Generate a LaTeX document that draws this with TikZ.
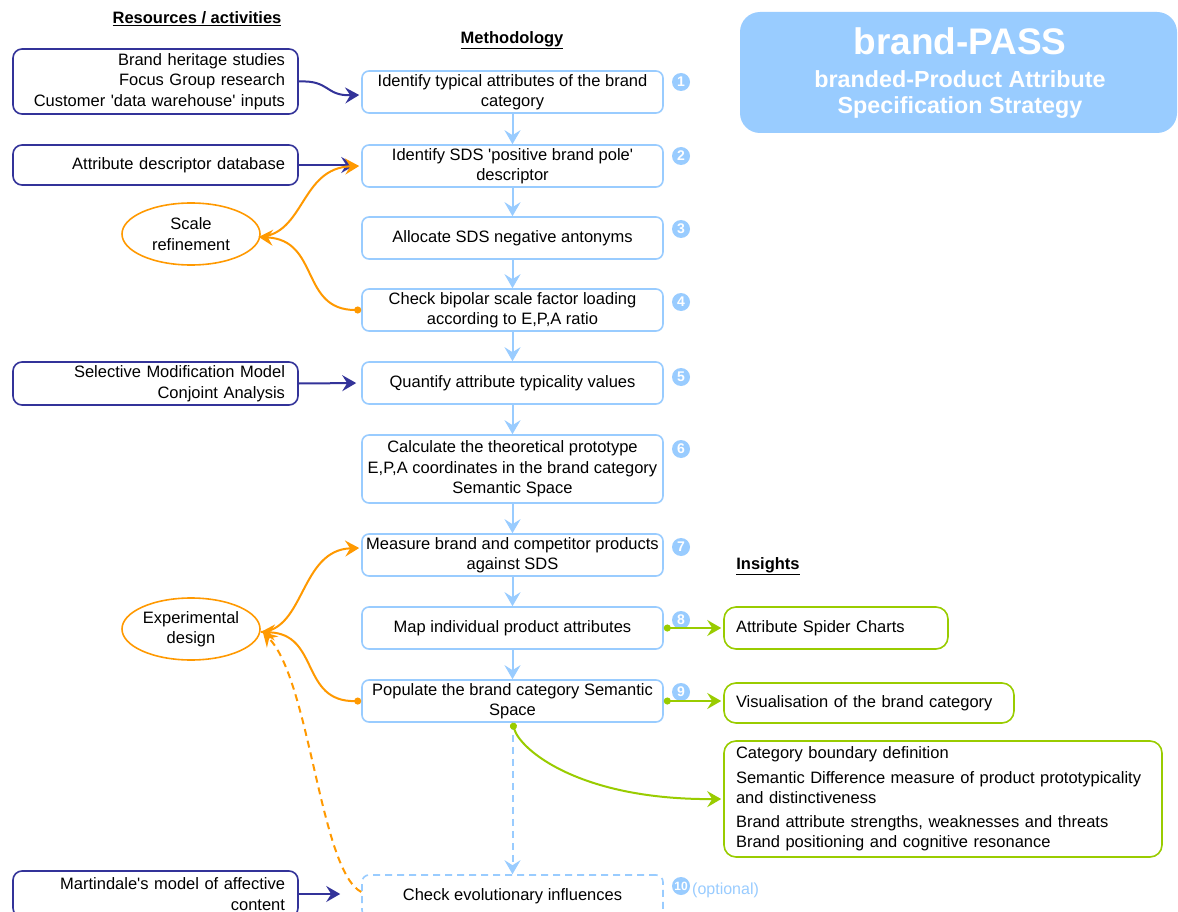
\documentclass[tikz,border=0pt]{standalone}
\usepackage{fontspec}
\setmainfont{Liberation Sans}
\usetikzlibrary{arrows.meta,shapes.geometric,calc}
\definecolor{mblue}{HTML}{99CCFF}
\definecolor{navy}{HTML}{333399}
\definecolor{orng}{HTML}{FF9900}
\definecolor{grn}{HTML}{99CC00}
\newcommand{\sq}{\textquotesingle}
\tikzset{
  txt/.style={font=\fontsize{16.5}{20.5}\selectfont},
  mstep/.style={txt, draw=mblue, line width=1.6pt, rounded corners=7pt, minimum width=301pt, minimum height=42pt, align=center, inner sep=0pt},
  rstep/.style={txt, draw=navy, line width=1.6pt, rounded corners=9pt, text width=259pt, inner xsep=13pt, inner ysep=0pt, align=right},
  istep/.style={txt, draw=grn, line width=1.6pt, rounded corners=12pt, inner xsep=12pt, inner ysep=0pt, align=left},
  ell/.style={txt, ellipse, draw=orng, line width=1.6pt, minimum width=138pt, minimum height=62pt, align=center, inner sep=0pt},
  numc/.style={circle, fill=mblue, text=white, inner sep=0pt, minimum size=18pt, font=\bfseries\fontsize{14}{14}\selectfont},
  hdr/.style={font=\bfseries\fontsize{16.5}{18}\selectfont},
  dsh/.style={dash pattern=on 7pt off 5pt},
  tip/.style={-{Stealth[length=14pt,width=16pt,inset=5pt]}},
  barrow/.style={tip, draw=mblue, line width=2pt},
  narrow/.style={tip, draw=navy, line width=2pt},
  oarrow/.style={{Circle[length=7pt]}-{Stealth[length=14pt,width=16pt,inset=5pt]}, draw=orng, line width=2pt},
  oarrowb/.style={tip, draw=orng, line width=2pt},
  garrow/.style={{Circle[length=7pt]}-{Stealth[length=14pt,width=16pt,inset=5pt]}, draw=grn, line width=2pt},
}
\begin{document}
\begin{tikzpicture}[x=1pt,y=-1pt]
\path[use as bounding box, fill=white] (0,0) rectangle (1178,912);

% title
\node[fill=mblue, rounded corners=20pt, minimum width=437pt, minimum height=121pt, inner sep=0pt] (title) at (958.5,72.5) {};
\node[text=white, font=\bfseries\fontsize{37}{40}\selectfont] (t1) at (960,41) {brand-PASS};
\node[text=white, font=\bfseries\fontsize{23.3}{26}\selectfont] (t2) at (960,79) {branded-Product Attribute};
\node[text=white, font=\bfseries\fontsize{23.3}{26}\selectfont] (t3) at (960,108) {Specification Strategy};

% headers
\node[hdr] (h1) at (197,19) {\underline{Resources / activities}};
\node[hdr] (h2) at (512,40) {\underline{Methodology}};
\node[hdr] (h3) at (768,566) {\underline{Insights}};

% methodology
\node[mstep] (m1) at (512.5,92) {Identify typical attributes of the brand\\category};
\node[mstep] (m2) at (512.5,166) {Identify SDS \sq positive brand pole\sq\\descriptor};
\node[mstep] (m3) at (512.5,238) {Allocate SDS negative antonyms};
\node[mstep] (m4) at (512.5,310) {Check bipolar scale factor loading\\according to E,P,A ratio};
\node[mstep] (m5) at (512.5,383) {Quantify attribute typicality values};
\node[mstep, minimum height=68pt] (m6) at (512.5,469) {Calculate the theoretical prototype\\E,P,A coordinates in the brand category\\Semantic Space};
\node[mstep] (m7) at (512.5,555) {Measure brand and competitor products\\against SDS};
\node[mstep] (m8) at (512.5,628) {Map individual product attributes};
\node[mstep] (m9) at (512.5,701) {Populate the brand category Semantic\\Space};
\node[mstep, dsh] (m10) at (512.5,896) {Check evolutionary influences};

% numbers
\node[numc] (n1) at (681,82) {1};
\node[numc] (n2) at (681,156) {2};
\node[numc] (n3) at (681,229) {3};
\node[numc] (n4) at (681,302) {4};
\node[numc] (n5) at (681,377) {5};
\node[numc] (n6) at (681,449) {6};
\node[numc] (n7) at (681,547) {7};
\node[numc] (n8) at (681,620) {8};
\node[numc] (n9) at (681,692) {9};
\node[numc, font=\bfseries\fontsize{12}{12}\selectfont] (n10) at (681,886) {10};
\node[text=mblue, anchor=west, inner sep=0pt, font=\fontsize{16}{18}\selectfont] (opt) at (692,890) {(optional)};

% resources
\node[rstep, minimum height=65pt] (r1) at (155.5,81.5) {Brand heritage studies\\Focus Group research\\Customer \sq data warehouse\sq\ inputs};
\node[rstep, minimum height=40pt] (r2) at (155.5,165) {Attribute descriptor database};
\node[rstep, minimum height=43pt] (r3) at (155.5,383.5) {Selective Modification Model\\Conjoint Analysis};
\node[rstep, minimum height=46pt] (r4) at (155.5,894) {Martindale\sq s model of affective\\content};

% ellipses
\node[ell] (e1) at (191,234) {Scale\\refinement};
\node[ell] (e2) at (191,629) {Experimental\\design};

% insights
\node[istep, text width=200pt, minimum height=42pt] (i1) at (836,628) {Attribute Spider Charts};
\node[istep, text width=266pt, minimum height=40pt] (i2) at (869,703) {Visualisation of the brand category};
\node[istep, text width=414pt, minimum height=116pt] (i3) at (943,799) {Category boundary definition\\[4pt]Semantic Difference measure of product prototypicality\\and distinctiveness\\[3pt]Brand attribute strengths, weaknesses and threats\\Brand positioning and cognitive resonance};

% methodology flow
\draw[barrow] (m1) -- (m2);
\draw[barrow] (m2) -- (m3);
\draw[barrow] (m3) -- (m4);
\draw[barrow] (m4) -- (m5);
\draw[barrow] (m5) -- (m6);
\draw[barrow] (m6) -- (m7);
\draw[barrow] (m7) -- (m8);
\draw[barrow] (m8) -- (m9);
\draw[barrow, dsh] (m9.south) -- (m10.north);

% resources arrows
\draw[narrow] (r1.east) .. controls (330,80) and (325,96) .. ($(m1.west)+(-2,3)$);
\draw[narrow, shorten >=6pt] (r2.east) -- (m2.west |- r2.east);
\draw[narrow, shorten >=5pt] (r3.east) -- (m5.west);
\draw[narrow, shorten >=21pt] (r4.east) -- (m10.west |- r4.east);

% orange
\draw[oarrow] (m4.west) .. controls (300,310) and (320,240) .. ($(e1.east)+(-2,3)$);
\draw[oarrowb] ($(e1.east)+(-2,3)$) .. controls (305,235) and (300,168) .. ($(m2.west)+(-2,0)$);
\draw[oarrow] (m9.west) .. controls (300,702) and (320,634) .. ($(e2.east)+(0,3)$);
\draw[oarrowb] ($(e2.east)+(0,3)$) .. controls (305,630) and (300,550) .. ($(m7.west)+(-2,-7)$);
\draw[oarrowb, dsh] ($(m10.west)+(0,-4)$) .. controls (320,870) and (310,680) .. ($(e2.east)+(2,3)$);

% green
\draw[garrow, shorten >=2pt] (m8.east) -- (i1.west);
\draw[garrow, shorten >=2pt] (m9.east) -- (i2.west |- m9.east);
\draw[garrow, shorten >=2pt] (m9.south) .. controls (520,750) and (580,800) .. (i3.west);
\end{tikzpicture}
\end{document}
